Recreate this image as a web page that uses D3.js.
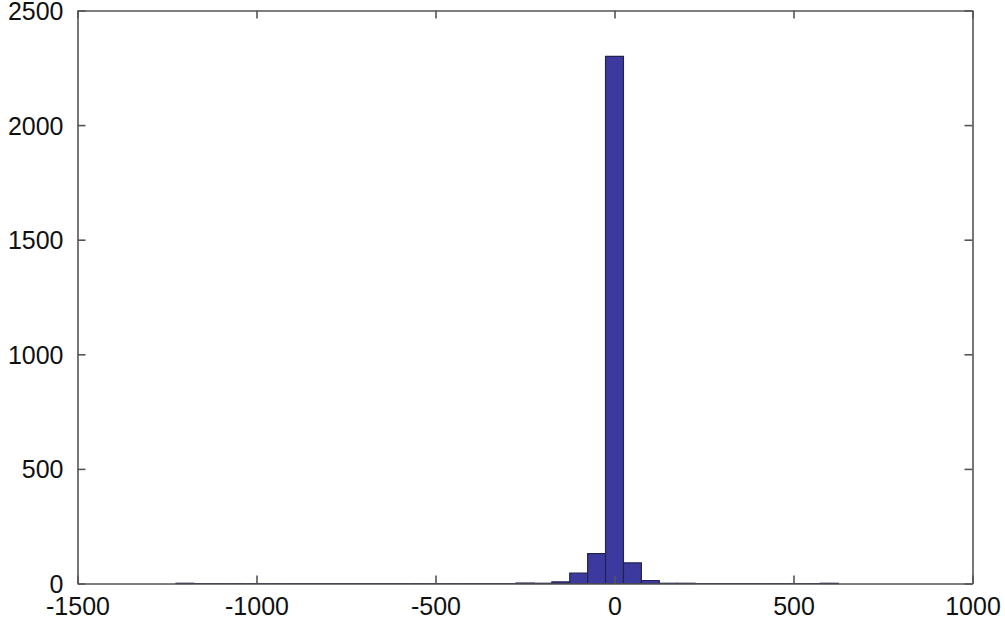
<!DOCTYPE html>
<html><head><meta charset="utf-8">
<script src="https://cdn.jsdelivr.net/npm/d3@7"></script>
<style>body{margin:0;background:#fff}svg{display:block}text{font-family:"Liberation Sans",Arial,sans-serif}</style>
</head><body><svg id="c" width="1005" height="621"></svg>
<script>
// bin centers (width 50) and counts
const binWidth = 50;
const binCenters = d3.range(-1200, 601, 50);
const binCounts = [1,0,0,0,0,0,0,0,0,0,0,0,0,0,0,0,0,0,0,2,1,7,45,130,2300,90,13,1,1,0,0,0,0,0,0,0,1];
const xTicks = [-1500,-1000,-500,0,500,1000];
const yTicks = [0,500,1000,1500,2000,2500];

const svg = d3.select("#c");
const L=77.5, R=972.5, T=10.5, B=583.5;
const x = d3.scaleLinear().domain([-1500,1000]).range([L,R]);
const y = d3.scaleLinear().domain([0,2500]).range([B,T]);
const axisCol="#555";
const fmt = d => String(d);

// bars (paths so that empty bins still draw as a line on the baseline)
svg.append("g").selectAll("path").data(binCenters.map((c,i)=>({c,v:binCounts[i]})))
  .join("path")
  .attr("d",d=>{const x0=x(d.c-binWidth/2),x1=x(d.c+binWidth/2),y0=y(0),y1=y(d.v);
     return `M${x0},${y0}V${y1}H${x1}V${y0}Z`;})
  .attr("fill","#3d3a9f").attr("stroke","#23224f").attr("stroke-width",1.2);

// axes (box with inward ticks)
const tl=8;
const gB=svg.append("g").attr("transform",`translate(0,${B})`).call(d3.axisBottom(x).tickValues(xTicks).tickFormat(fmt).tickSizeInner(-tl).tickSizeOuter(0).tickPadding(14));
const gT=svg.append("g").attr("transform",`translate(0,${T})`).call(d3.axisTop(x).tickValues(xTicks).tickSizeInner(-tl).tickSizeOuter(0).tickFormat(""));
const gL=svg.append("g").attr("transform",`translate(${L},0)`).call(d3.axisLeft(y).tickValues(yTicks).tickFormat(fmt).tickSizeInner(-tl).tickSizeOuter(0).tickPadding(14));
const gR=svg.append("g").attr("transform",`translate(${R},0)`).call(d3.axisRight(y).tickValues(yTicks).tickSizeInner(-tl).tickSizeOuter(0).tickFormat(""));
[gB,gT,gL,gR].forEach(g=>{
  g.select(".domain").attr("stroke",axisCol).attr("stroke-width",1.6);
  g.selectAll(".tick line").attr("stroke",axisCol).attr("stroke-width",1.6);
  g.selectAll("text").attr("fill","#111").style("font-size","25px");
});
gB.selectAll(".tick text").attr("dy","0.71em");
gL.selectAll(".tick text").attr("dy","0.36em");
</script></body></html>
